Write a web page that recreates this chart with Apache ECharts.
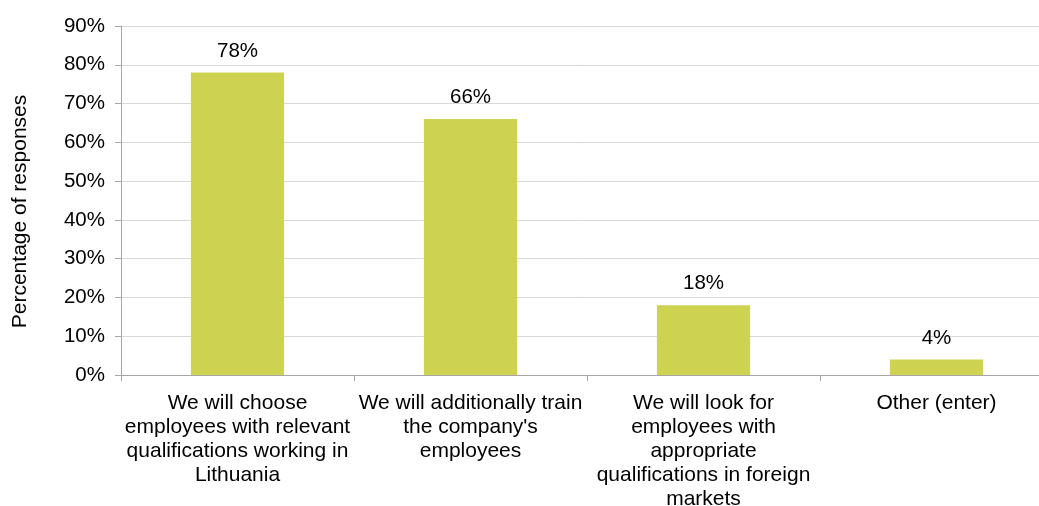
<html>
<head>
<meta charset="utf-8">
<script src="https://cdn.jsdelivr.net/npm/echarts@6/dist/echarts.min.js"></script>
<style>
  body { margin: 0; background: #fff; }
  #main { width: 1039px; height: 506px; }
</style>
</head>
<body>
<div id="main"></div>
<script type="text/javascript">
// categories (line breaks as in the original chart)
var categories = [
    "We will choose\nemployees with relevant\nqualifications working in\nLithuania",
    "We will additionally train\nthe company's\nemployees",
    "We will look for\nemployees with\nappropriate\nqualifications in foreign\nmarkets",
    "Other (enter)"
];
// share of responses, %
var values = [78, 66, 18, 4];
var yTicks = [0, 10, 20, 30, 40, 50, 60, 70, 80, 90];

var font = "Liberation Sans, Arial, sans-serif";
var myChart = echarts.init(document.getElementById('main'));

var option = {
    animation: false,
    grid: {
        left: 121, right: -14, top: 26, bottom: 131,
        containLabel: false,
        outerBoundsMode: 'none'
    },
    xAxis: {
        type: 'category',
        data: categories,
        axisLine: { lineStyle: { color: '#a6a6a6', width: 1 } },
        axisTick: { show: true, length: 6, alignWithLabel: false, lineStyle: { color: '#a6a6a6' } },
        axisLabel: {
            interval: 0,
            color: '#000',
            fontFamily: font,
            fontSize: 21,
            lineHeight: 24,
            margin: 16
        }
    },
    yAxis: {
        type: 'value',
        min: yTicks[0],
        max: yTicks[yTicks.length - 1],
        interval: 10,
        name: 'Percentage of responses',
        nameLocation: 'middle',
        nameGap: 90,
        nameTextStyle: { color: '#000', fontFamily: font, fontSize: 21, padding: [0, 22, 0, 0] },
        axisLine: { show: true, lineStyle: { color: '#a6a6a6' } },
        axisTick: { show: true, length: 6, lineStyle: { color: '#a6a6a6' } },
        splitLine: { lineStyle: { color: '#d9d9d9' } },
        axisLabel: {
            color: '#000',
            fontFamily: font,
            fontSize: 20.5,
            margin: 16,
            formatter: '{value}%'
        }
    },
    series: [{
        type: 'bar',
        data: values,
        barWidth: '40%',
        itemStyle: { color: '#cdd350' },
        label: {
            show: true,
            position: 'top',
            distance: 11,
            color: '#000',
            fontFamily: font,
            fontSize: 20.5,
            formatter: '{c}%'
        }
    }]
};
myChart.setOption(option);
</script>
</body>
</html>
